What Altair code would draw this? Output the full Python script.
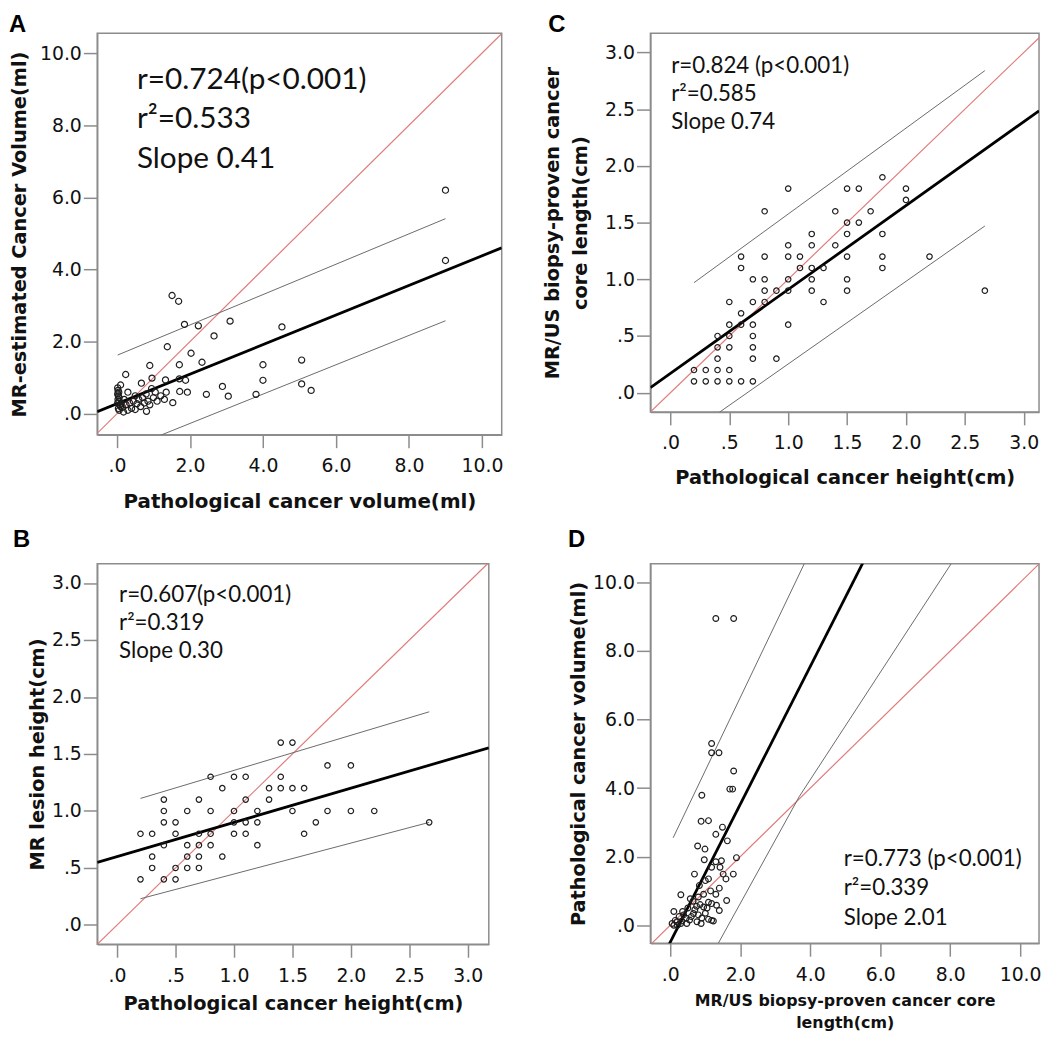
import altair as alt
import pandas as pd

FRAME = "#8c8c8c"
RED = "#e07b7b"
PI = "#6a6a6a"

# ---------------- Panel A: pathological vs MR-estimated volume ----------------
A_x = [9.0, 9.0, 1.51, 1.69, 1.85, 2.23, 3.10, 2.66, 4.52, 1.38, 2.03, 2.33, 1.71, 0.90, 4.00,
       5.06, 0.24, 0.96, 0.67, 1.33, 1.71, 1.88, 4.00, 2.89, 5.06, 5.32, 1.72, 1.93, 2.45, 3.05,
       3.81, 1.53, 0.81,
       0.02, 0.03, 0.05, 0.02, 0.04, 0.06, 0.03, 0.05, 0.02, 0.08, 0.10, 0.04, 0.06, 0.12, 0.15,
       0.20, 0.25, 0.30, 0.35, 0.40, 0.45, 0.50, 0.55, 0.60, 0.65, 0.70, 0.75, 0.80, 0.85, 0.90,
       1.00, 1.05, 1.10, 1.20, 1.30, 1.35, 0.30, 0.18, 0.50, 0.95, 0.10]
A_y = [6.20, 4.25, 3.28, 3.12, 2.48, 2.44, 2.57, 2.16, 2.41, 1.86, 1.68, 1.43, 1.36, 1.34, 1.36,
       1.49, 1.09, 0.99, 0.85, 0.94, 0.97, 0.93, 0.93, 0.76, 0.83, 0.65, 0.62, 0.60, 0.54, 0.49,
       0.54, 0.31, 0.07,
       0.72, 0.65, 0.60, 0.55, 0.50, 0.45, 0.40, 0.35, 0.30, 0.25, 0.20, 0.15, 0.10, 0.30, 0.18,
       0.40, 0.25, 0.60, 0.30, 0.15, 0.35, 0.50, 0.28, 0.40, 0.20, 0.45, 0.30, 0.55, 0.35, 0.25,
       0.45, 0.60, 0.35, 0.50, 0.40, 0.60, 0.10, 0.05, 0.12, 0.70, 0.80]
A_stats = ["r=0.724(p<0.001)", "r\u00b2=0.533", "Slope 0.41"]
A_fit = [0.28, 0.41]                       # intercept, slope
A_pi_up_x, A_pi_up_y = [0.02, 9.0], [1.63, 5.41]
A_pi_lo_x, A_pi_lo_y = [0.0, 9.0], [-1.08, 2.58]
A_ticks = [0, 2, 4, 6, 8, 10]

# ---------------- Panel C: pathological height vs biopsy core length ----------------
C_x = [0.2, 0.3, 0.4, 0.5, 0.6, 0.7,
       0.2, 0.3, 0.4, 0.5,
       0.4, 0.7, 0.9,
       0.4, 0.5, 0.7,
       0.4, 0.5, 0.7,
       0.5, 0.6, 0.7, 1.0,
       0.6,
       0.5, 0.7, 0.8, 1.3,
       0.8, 0.9, 1.0, 1.2, 1.5, 2.67,
       0.7, 0.8, 1.0, 1.2, 1.5,
       0.6, 1.1, 1.2, 1.3, 1.8,
       0.6, 0.8, 1.0, 1.1, 1.5, 1.8, 2.2,
       1.0, 1.2, 1.4,
       1.2, 1.5, 1.8,
       1.5, 1.6,
       0.8, 1.4, 1.7,
       2.0,
       1.0, 1.5, 1.6, 2.0,
       1.8]
C_y = [0.1, 0.1, 0.1, 0.1, 0.1, 0.1,
       0.2, 0.2, 0.2, 0.2,
       0.3, 0.3, 0.3,
       0.4, 0.4, 0.4,
       0.5, 0.5, 0.5,
       0.6, 0.6, 0.6, 0.6,
       0.7,
       0.8, 0.8, 0.8, 0.8,
       0.9, 0.9, 0.9, 0.9, 0.9, 0.9,
       1.0, 1.0, 1.0, 1.0, 1.0,
       1.1, 1.1, 1.1, 1.1, 1.1,
       1.2, 1.2, 1.2, 1.2, 1.2, 1.2, 1.2,
       1.3, 1.3, 1.3,
       1.4, 1.4, 1.4,
       1.5, 1.5,
       1.6, 1.6, 1.6,
       1.7,
       1.8, 1.8, 1.8, 1.8,
       1.9]
C_stats = ["r=0.824 (p<0.001)", "r\u00b2=0.585", "Slope 0.74"]
C_fit = [0.17, 0.74]
C_pi_up_x, C_pi_up_y = [0.2, 2.67], [0.97, 2.84]
C_pi_lo_x, C_pi_lo_y = [0.2, 2.67], [-0.33, 1.47]
C_ticks = [0, 0.5, 1.0, 1.5, 2.0, 2.5, 3.0]

# ---------------- Panel B: pathological height vs MR lesion height ----------------
B_x = [1.4, 1.5,
       1.8, 2.0,
       0.8, 1.0, 1.1, 1.4,
       0.9, 1.3, 1.4, 1.5, 1.6,
       0.4, 0.7, 1.1, 1.3,
       0.4, 0.6, 0.8, 1.0, 1.2, 1.5, 1.8, 2.0, 2.2,
       0.4, 0.5, 1.0, 1.1, 1.2, 1.7, 2.67,
       0.2, 0.3, 0.5, 0.7, 0.8, 1.0, 1.1, 1.6,
       0.4, 0.6, 0.7, 0.8, 1.2,
       0.3, 0.6, 0.7, 0.9,
       0.3, 0.5, 0.6, 0.7,
       0.2, 0.4, 0.5]
B_y = [1.6, 1.6,
       1.4, 1.4,
       1.3, 1.3, 1.3, 1.3,
       1.2, 1.2, 1.2, 1.2, 1.2,
       1.1, 1.1, 1.1, 1.1,
       1.0, 1.0, 1.0, 1.0, 1.0, 1.0, 1.0, 1.0, 1.0,
       0.9, 0.9, 0.9, 0.9, 0.9, 0.9, 0.9,
       0.8, 0.8, 0.8, 0.8, 0.8, 0.8, 0.8, 0.8,
       0.7, 0.7, 0.7, 0.7, 0.7,
       0.6, 0.6, 0.6, 0.6,
       0.5, 0.5, 0.5, 0.5,
       0.4, 0.4, 0.4]
B_stats = ["r=0.607(p<0.001)", "r\u00b2=0.319", "Slope 0.30"]
B_fit = [0.60, 0.30]
B_pi_up_x, B_pi_up_y = [0.2, 2.67], [1.11, 1.87]
B_pi_lo_x, B_pi_lo_y = [0.2, 2.67], [0.23, 0.90]
B_ticks = [0, 0.5, 1.0, 1.5, 2.0, 2.5, 3.0]

# ---------------- Panel D: biopsy core length vs pathological volume ----------------
D_x = [1.30, 1.81, 1.18, 1.18, 1.39, 1.81, 1.70, 1.78, 0.90, 0.88, 1.09, 1.49, 1.30, 1.63,
       0.78, 0.99, 0.97, 1.30, 1.46, 1.89, 1.42, 1.18, 0.69, 1.51, 1.80, 1.09, 1.59, 0.83,
       1.40, 0.30, 0.57, 0.80, 1.09, 1.61, 0.95, 1.18, 1.32,
       0.10, 0.38, 0.66, 0.90, 1.09, 1.40, 1.18, 0.19, 0.47, 0.76, 0.88, 1.23, 0.05, 0.14,
       0.33, 0.10, 0.20, 0.30, 0.55, 0.60, 0.70, 0.80, 1.00, 0.45, 0.25, 0.85, 1.05, 0.95,
       1.15, 0.75, 0.35, 0.50, 1.30, 1.00, 0.65]
D_y = [8.95, 8.95, 5.30, 5.03, 5.03, 4.50, 3.97, 3.97, 3.79, 3.03, 3.05, 2.86, 2.65, 2.46,
       2.31, 2.22, 1.91, 1.85, 1.88, 1.97, 1.69, 1.69, 1.49, 1.49, 1.49, 1.35, 1.35, 1.16,
       1.08, 0.89, 0.77, 0.82, 0.67, 0.72, 0.53, 0.63, 0.58,
       0.40, 0.30, 0.34, 0.21, 0.17, 0.43, 0.14, 0.10, 0.05, 0.10, 0.05, 0.12, 0.05, 0.14,
       0.12, 0.00, 0.00, 0.05, 0.15, 0.25, 0.45, 0.30, 0.35, 0.20, 0.25, 0.60, 0.50, 0.90,
       1.00, 0.55, 0.40, 0.50, 0.90, 1.30, 0.70]
D_stats = ["r=0.773 (p<0.001)", "r\u00b2=0.339", "Slope 2.01"]
D_fit = [-0.49, 2.01]
D_pi_up_x, D_pi_up_y = [0.08, 3.83], [2.55, 10.55]
D_pi_lo_x, D_pi_lo_y = [1.37, 3.69, 8.03], [-0.53, 3.76, 10.55]
D_ticks = [0, 2, 4, 6, 8, 10]

LAB = ("datum.value < 1 ? substring(format(datum.value, '.1f'), 1) "
       ": format(datum.value, '.1f')")


def panel(letter, xs, ys, stats, fit, pu, pl, dom_x, dom_y, ticks, xtitle, ytitle,
          w, h, txt_xy, txt_size, txt_lh, pt_size, letter_xy,
          xtitle_size=19.5, ytitle_size=19.5, x_title_pad=16, y_title_pad=10,
          x_title_lh=24, y_title_lh=27):
    pts = pd.DataFrame({"x": xs, "y": ys})
    X = alt.X("x:Q", scale=alt.Scale(domain=dom_x, nice=False, zero=False),
              axis=alt.Axis(values=ticks, labelExpr=LAB, title=xtitle,
                            titleFontSize=xtitle_size, labelPadding=9,
                            titleLineHeight=x_title_lh,
                            titlePadding=x_title_pad, labelFlush=False, tickSize=13))
    Y = alt.Y("y:Q", scale=alt.Scale(domain=dom_y, nice=False, zero=False),
              axis=alt.Axis(values=ticks, labelExpr=LAB, title=ytitle,
                            titleFontSize=ytitle_size, labelPadding=2,
                            titleLineHeight=y_title_lh,
                            titlePadding=y_title_pad, labelFlush=False, tickSize=14))
    lo = min(dom_x[0], dom_y[0])
    hi = max(dom_x[1], dom_y[1])
    ident = pd.DataFrame({"x": [lo, hi], "y": [lo, hi]})
    fitdf = pd.DataFrame({"x": [dom_x[0], dom_x[1]],
                          "y": [fit[0] + fit[1] * dom_x[0], fit[0] + fit[1] * dom_x[1]]})
    pidf = pd.DataFrame({"x": list(pu[0]) + list(pl[0]),
                         "y": list(pu[1]) + list(pl[1]),
                         "g": ["u"] * len(pu[0]) + ["l"] * len(pl[0])})
    red = alt.Chart(ident).mark_line(clip=True, color=RED, strokeWidth=1.2).encode(x=X, y=Y)
    band = alt.Chart(pidf).mark_line(clip=True, color=PI, strokeWidth=1).encode(
        x=X, y=Y, detail="g:N")
    fitl = alt.Chart(fitdf).mark_line(clip=True, color="black", strokeWidth=2.8).encode(x=X, y=Y)
    dots = alt.Chart(pts).mark_point(shape="circle", filled=False, size=pt_size,
                                     strokeWidth=1.2, color="#1e1e1e", opacity=1).encode(x=X, y=Y)
    txt = alt.Chart(pd.DataFrame({"t": ["\n".join(stats)]})).mark_text(
        align="left", baseline="alphabetic", font="Lato", fontSize=txt_size,
        lineHeight=txt_lh, lineBreak="\n", color="#111111").encode(
        x=alt.value(txt_xy[0]), y=alt.value(txt_xy[1]), text="t:N")
    let = alt.Chart(pd.DataFrame({"t": [letter]})).mark_text(
        align="left", baseline="top", font="Liberation Sans", fontWeight="bold",
        fontSize=24, color="black").encode(
        x=alt.value(letter_xy[0]), y=alt.value(letter_xy[1]), text="t:N")
    return alt.layer(red, band, fitl, dots, txt, let).properties(width=w, height=h)


pA = panel("A", A_x, A_y, A_stats, A_fit, (A_pi_up_x, A_pi_up_y), (A_pi_lo_x, A_pi_lo_y),
           [-0.54, 10.54], [-0.58, 10.55], A_ticks,
           "Pathological cancer volume(ml)", "MR-estimated Cancer Volume(ml)",
           408, 405, (40, 56), 30, 40, 38, (-89, -20),
           xtitle_size=20, ytitle_size=19.5, x_title_pad=16, y_title_pad=10)
pC = panel("C", C_x, C_y, C_stats, C_fit, (C_pi_up_x, C_pi_up_y), (C_pi_lo_x, C_pi_lo_y),
           [-0.17, 3.13], [-0.17, 3.17], C_ticks,
           "Pathological cancer height(cm)", ["MR/US biopsy-proven cancer", "core length(cm)"],
           392, 382, (21, 40), 22.5, 28.5, 30, (-103, -20),
           x_title_pad=16, y_title_pad=14, y_title_lh=28)
pB = panel("B", B_x, B_y, B_stats, B_fit, (B_pi_up_x, B_pi_up_y), (B_pi_lo_x, B_pi_lo_y),
           [-0.17, 3.18], [-0.17, 3.17], B_ticks,
           "Pathological cancer height(cm)", "MR lesion height(cm)",
           395, 384, (22, 38.5), 22.5, 28.5, 30, (-85, -36),
           x_title_pad=10, y_title_pad=4)
pD = panel("D", D_x, D_y, D_stats, D_fit, (D_pi_up_x, D_pi_up_y), (D_pi_lo_x, D_pi_lo_y),
           [-0.57, 10.54], [-0.53, 10.55], D_ticks,
           ["MR/US biopsy-proven cancer core", "length(cm)"], "Pathological cancer volume(ml)",
           392, 383, (195, 304.5), 22.5, 30, 34, (-83, -36),
           xtitle_size=16, x_title_pad=9, x_title_lh=22, y_title_pad=4)

chart = alt.vconcat(
    alt.hconcat(pA, pC, spacing=38),
    alt.hconcat(pB, pD, spacing=78),
    spacing=15,
).properties(padding=0).configure_view(
    stroke=FRAME, strokeWidth=1.5
).configure_axis(
    labelFont="DejaVu Sans", labelFontSize=19, labelColor="#111111",
    titleFont="DejaVu Sans", titleFontWeight="bold", titleColor="#111111",
    tickColor=FRAME, tickWidth=1.5, domainColor=FRAME, domainWidth=1.5,
    grid=False, labelOverlap=False
)

chart.save("out.html", embed_options={"renderer": "svg", "actions": False})
